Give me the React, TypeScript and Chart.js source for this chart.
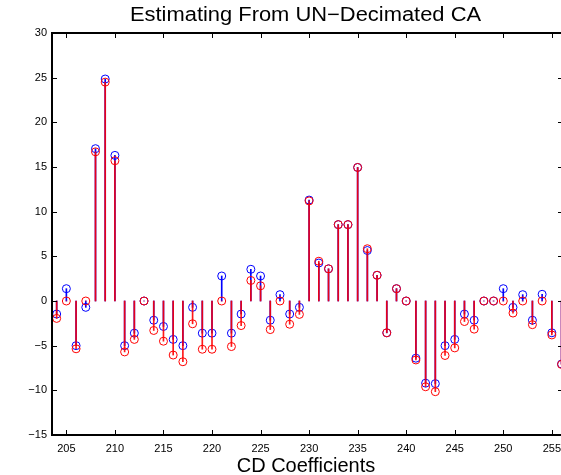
import React, { useEffect, useRef } from 'react';
import { Chart, registerables } from 'chart.js';

Chart.register(...registerables);

// ---- data ----
const xValues = [
  204, 205, 206, 207, 208, 209, 210, 211, 212, 213, 214, 215, 216, 217, 218, 219, 220,
  221, 222, 223, 224, 225, 226, 227, 228, 229, 230, 231, 232, 233, 234, 235, 236, 237,
  238, 239, 240, 241, 242, 243, 244, 245, 246, 247, 248, 249, 250, 251, 252, 253, 254,
  255, 256,
];
const blueValues = [
  -1.46, 1.38, -5.0, -0.71, 17.05, 24.85, 16.3, -5.0, -3.6, 0, -2.15, -2.85, -4.3, -5.0, -0.71, -3.6, -3.6,
  2.8, -3.6, -1.46, 3.55, 2.8, -2.15, 0.71, -1.46, -0.71, 11.3, 4.25, 3.6, 8.55, 8.55, 14.95, 5.65, 2.88,
  -3.56, 1.38, 0, -6.4, -9.2, -9.25, -5.0, -4.3, -1.46, -2.15, 0, 0, 1.38, -0.71, 0.71, -2.15, 0.75,
  -3.56, -7.05,
];
const redValues = [
  -1.95, 0, -5.35, 0, 16.7, 24.5, 15.7, -5.7, -4.3, 0, -3.3, -4.5, -6.05, -6.8, -2.55, -5.4, -5.4,
  0, -5.1, -2.75, 2.3, 1.7, -3.2, 0, -2.6, -1.5, 11.2, 4.45, 3.6, 8.55, 8.55, 14.95, 5.85, 2.88,
  -3.56, 1.38, 0, -6.6, -9.6, -10.15, -6.1, -5.25, -2.3, -3.15, 0, 0, 0, -1.35, 0, -2.65, 0,
  -3.8, -7.1,
];
const xTicks = [205, 210, 215, 220, 225, 230, 235, 240, 245, 250, 255];
const yTicks = [-15, -10, -5, 0, 5, 10, 15, 20, 25, 30];
const titleText = 'Estimating From UN\u2212Decimated CA';
const xLabelText = 'CD Coefficients';

// ---- layout ----
const W = 570;
const H = 475;
const AREA = { left: 52, right: 563, top: 33, bottom: 435 };
const X_MIN = 203.52;
const X_MAX = 256.15;
const FONT = '"Liberation Sans", Arial, Helvetica, sans-serif';

const fmt = (v: number) => (v < 0 ? '\u2212' + Math.abs(v) : String(v));

const framePlugin = {
  id: 'frame',
  afterDraw(chart: any) {
    const { ctx, chartArea } = chart;
    const xs = chart.scales.x;
    const ys = chart.scales.y;
    const { left, right, top, bottom } = chartArea;
    ctx.save();
    ctx.strokeStyle = '#000';
    ctx.lineWidth = 1;
    const tl = 5;
    ctx.beginPath();
    xs.ticks.forEach((t: any) => {
      const px = Math.round(xs.getPixelForValue(t.value)) + 0.5;
      ctx.moveTo(px, bottom);
      ctx.lineTo(px, bottom - tl);
      ctx.moveTo(px, top);
      ctx.lineTo(px, top + tl);
    });
    ys.ticks.forEach((t: any) => {
      const py = Math.round(ys.getPixelForValue(t.value)) + 0.5;
      ctx.moveTo(left, py);
      ctx.lineTo(left + tl, py);
      ctx.moveTo(right, py);
      ctx.lineTo(right - tl, py);
    });
    ctx.stroke();
    ctx.lineWidth = 2;
    ctx.strokeRect(left, top, right - left, bottom - top);
    ctx.fillStyle = '#000';
    ctx.textAlign = 'center';
    ctx.textBaseline = 'alphabetic';
    ctx.font = '20px ' + FONT;
    // title (slightly wider glyphs, as in the reference)
    ctx.save();
    ctx.translate(305.5, 21);
    ctx.scale(1.095, 1);
    ctx.fillText(titleText, 0, 0);
    ctx.restore();
    ctx.fillText(xLabelText, 306, 472);
    ctx.restore();
  },
};

export default function App() {
  const ref = useRef<HTMLCanvasElement>(null);

  useEffect(() => {
    if (!ref.current) return;
    const pts = (vals: number[]) => xValues.map((x, i) => ({ x, y: vals[i] }));
    const chart = new Chart(ref.current, {
      type: 'bar',
      data: {
        datasets: [
          {
            type: 'bar',
            data: pts(blueValues),
            backgroundColor: 'rgb(0,0,255)',
            borderWidth: 0,
            barThickness: 1,
            grouped: false,
            order: 4,
            clip: false,
          } as any,
          {
            type: 'line',
            data: pts(blueValues),
            showLine: false,
            pointStyle: 'circle',
            pointRadius: 4,
            pointBorderWidth: 1,
            pointBorderColor: 'rgb(0,0,255)',
            pointBackgroundColor: 'rgba(0,0,0,0)',
            order: 3,
            clip: false,
          } as any,
          {
            type: 'bar',
            data: pts(redValues),
            backgroundColor: 'rgba(255,0,0,0.9)',
            borderWidth: 0,
            barThickness: 1,
            grouped: false,
            order: 2,
            clip: false,
          } as any,
          {
            type: 'line',
            data: pts(redValues),
            showLine: false,
            pointStyle: 'circle',
            pointRadius: 4,
            pointBorderWidth: 1,
            pointBorderColor: 'rgb(255,0,0)',
            pointBackgroundColor: 'rgba(0,0,0,0)',
            order: 1,
            clip: false,
          } as any,
        ],
      },
      options: {
        responsive: false,
        devicePixelRatio: 1,
        animation: false,
        layout: { padding: { top: AREA.top, right: W - AREA.right, left: 0, bottom: 0 } },
        plugins: { legend: { display: false }, tooltip: { enabled: false }, title: { display: false } },
        scales: {
          x: {
            type: 'linear',
            offset: false,
            min: X_MIN,
            max: X_MAX,
            grid: { display: false, drawTicks: false, tickLength: 0 },
            border: { display: false },
            ticks: {
              color: '#000',
              font: { family: FONT, size: 11 },
              padding: 7,
              maxRotation: 0,
              callback: (v: any) => fmt(Number(v)),
            },
            afterBuildTicks: (s: any) => {
              s.ticks = xTicks.map((v) => ({ value: v }));
            },
            afterFit: (s: any) => {
              s.height = H - AREA.bottom;
            },
          },
          y: {
            type: 'linear',
            min: -15,
            max: 30,
            grid: { display: false, drawTicks: false, tickLength: 0 },
            border: { display: false },
            ticks: {
              color: '#000',
              font: { family: FONT, size: 11 },
              padding: 5,
              callback: (v: any) => fmt(Number(v)),
            },
            afterBuildTicks: (s: any) => {
              s.ticks = yTicks.map((v) => ({ value: v }));
            },
            afterFit: (s: any) => {
              s.width = AREA.left;
            },
          },
        },
      } as any,
      plugins: [framePlugin],
    });
    return () => chart.destroy();
  }, []);

  return (
    <div
      style={{
        position: 'fixed',
        left: 0,
        top: 0,
        width: 561,
        height: 475,
        overflow: 'hidden',
        background: '#fff',
      }}
    >
      <canvas ref={ref} width={W} height={H} style={{ display: 'block', width: W, height: H }} />
    </div>
  );
}
